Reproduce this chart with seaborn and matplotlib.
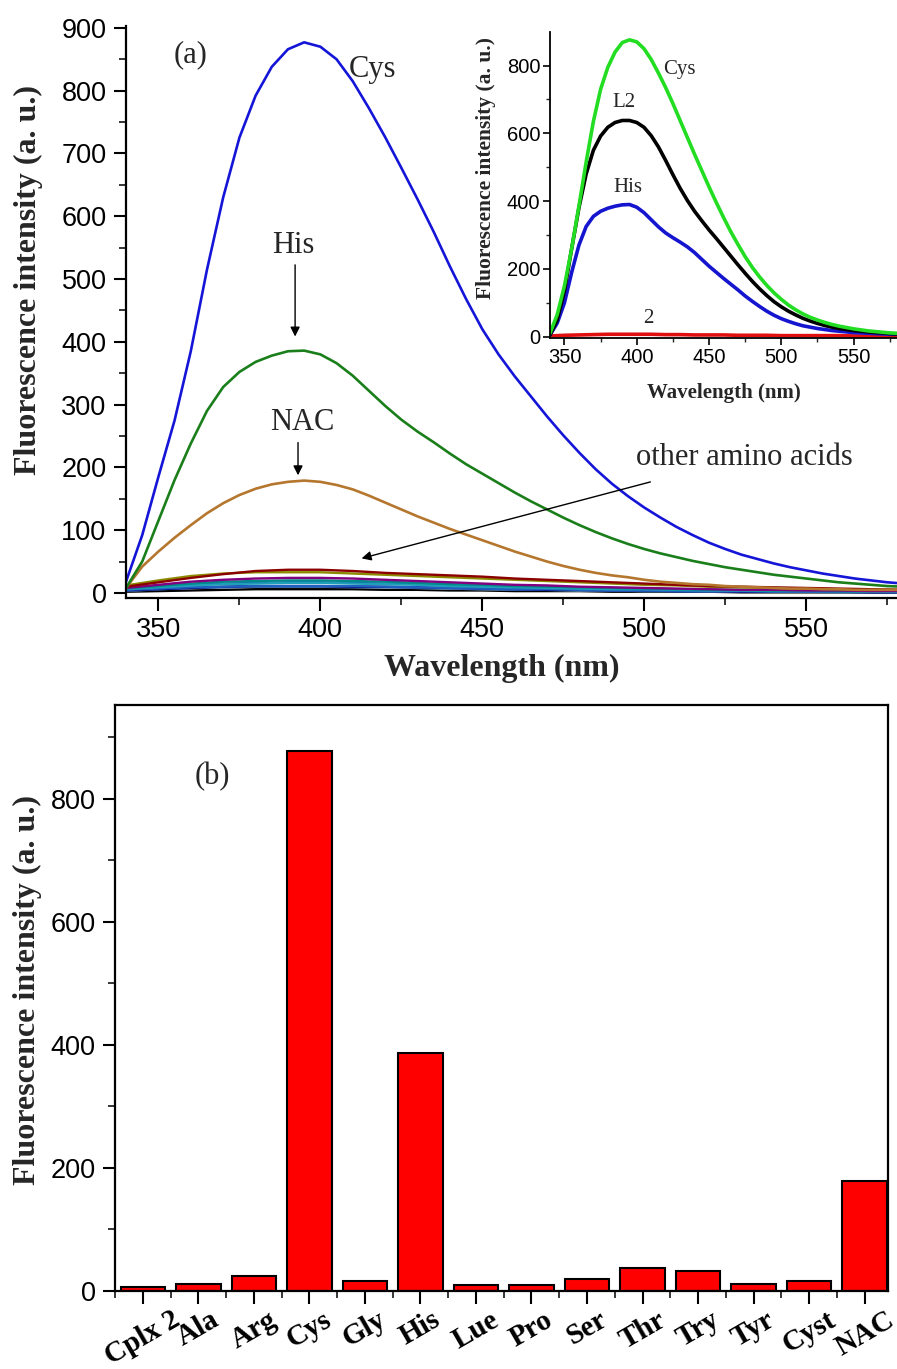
import numpy as np
import pandas as pd
import matplotlib
matplotlib.use("Agg")
import matplotlib.pyplot as plt
import seaborn as sns

# ---------------- data ----------------
# main panel (a): wavelength grid for the strong curves (5 nm)
wl5 = list(range(340, 581, 5))
cys = [18, 92, 185, 275, 385, 515, 630, 725, 792, 838, 866, 877, 870, 850, 815, 772,
       726, 677, 627, 575, 520, 468, 420, 380, 345, 313, 281, 251, 223, 197, 174, 154,
       136, 120, 105, 92, 80, 70, 61, 54, 47, 41, 36, 31, 27, 23, 20, 17, 15]
his = [8, 50, 115, 180, 238, 290, 328, 352, 368, 378, 385, 386, 380, 366, 346, 322,
       298, 276, 257, 240, 222, 205, 190, 175, 160, 146, 133, 120, 108, 97, 87, 78,
       70, 63, 57, 51, 46, 41, 37, 33, 29, 26, 23, 20, 17, 15, 13, 11, 10]
nac = [8, 42, 66, 88, 108, 127, 143, 156, 166, 173, 177, 179, 177, 172, 165, 155,
       144, 133, 122, 112, 102, 93, 84, 75, 66, 58, 50, 43, 37, 32, 28, 25,
       21, 18, 16, 14, 13, 11, 10, 9, 8, 7, 7, 6, 6, 5, 5, 5, 5]

# other amino acids (10 nm grid)
wl10 = list(range(340, 581, 10))
thr = [10, 17, 24, 30, 35, 37, 37, 35, 32, 30, 28, 26, 23, 21, 19, 17, 15, 13, 11, 10, 9, 8, 7, 6, 5]
try_ = [12, 20, 27, 31, 33, 33, 33, 31, 29, 27, 25, 23, 21, 19, 17, 15, 13, 12, 10, 9, 8, 7, 6, 5, 5]
arg = [8, 13, 18, 21, 23, 24, 24, 23, 21, 19, 17, 15, 13, 12, 10, 9, 8, 7, 6, 5, 5, 4, 4, 3, 3]
ser = [7, 11, 15, 18, 19, 20, 20, 19, 18, 16, 14, 13, 11, 10, 9, 8, 7, 6, 5, 5, 4, 4, 3, 3, 3]
gly = [6, 10, 13, 15, 16, 17, 17, 16, 15, 14, 12, 11, 10, 9, 8, 7, 6, 5, 5, 4, 4, 3, 3, 3, 2]
cyst = [6, 9, 12, 14, 15, 16, 16, 15, 14, 13, 11, 10, 9, 8, 7, 6, 6, 5, 4, 4, 3, 3, 3, 2, 2]
ala = [5, 7, 9, 10, 11, 11, 11, 11, 10, 9, 8, 7, 6, 6, 5, 4, 4, 3, 3, 3, 2, 2, 2, 2, 1]
tyr = [4, 6, 8, 10, 11, 11, 11, 10, 10, 9, 8, 7, 6, 5, 5, 4, 4, 3, 3, 2, 2, 2, 2, 1, 1]
lue = [4, 6, 8, 9, 10, 10, 10, 10, 9, 8, 7, 6, 6, 5, 4, 4, 3, 3, 3, 2, 2, 2, 2, 1, 1]
pro = [3, 6, 8, 9, 10, 10, 10, 9, 9, 8, 7, 6, 5, 5, 4, 4, 3, 3, 2, 2, 2, 2, 1, 1, 1]
cplx2 = [2, 3, 4, 5, 6, 6, 6, 6, 5, 5, 4, 4, 3, 3, 3, 2, 2, 2, 2, 1, 1, 1, 1, 1, 1]

# inset (5 nm grid for the three strong curves)
ins_cys = [10, 65, 150, 260, 385, 515, 635, 730, 795, 840, 868, 876, 870, 850, 818, 778,
           735, 688, 638, 588, 538, 490, 442, 396, 352, 310, 272, 236, 204, 176, 151, 129,
           110, 93, 79, 67, 57, 49, 42, 36, 31, 27, 23, 20, 17, 15, 13, 11, 10]
ins_l2 = [5, 50, 135, 260, 380, 480, 550, 592, 618, 632, 638, 638, 632, 618, 593, 560,
          520, 478, 438, 402, 370, 342, 315, 290, 264, 238, 212, 187, 163, 141, 121, 103,
          88, 75, 64, 54, 46, 39, 33, 28, 24, 21, 18, 16, 14, 12, 11, 9, 8]
ins_his = [5, 40, 100, 190, 270, 325, 355, 370, 379, 385, 389, 390, 382, 366, 345, 324,
           306, 292, 279, 265, 248, 228, 208, 190, 172, 155, 138, 120, 104, 89, 75, 63,
           53, 45, 38, 32, 28, 24, 21, 18, 16, 14, 12, 11, 10, 9, 8, 7, 7]
ins_2 = [2, 4, 5, 6, 7, 7, 7, 7, 6, 6, 5, 5, 5, 4, 4, 4, 3, 3, 3, 3, 3, 2, 2, 2, 2]

# panel (b)
bar_labels = ["Cplx 2", "Ala", "Arg", "Cys", "Gly", "His", "Lue", "Pro", "Ser",
              "Thr", "Try", "Tyr", "Cyst", "NAC"]
bar_values = [6, 11, 25, 878, 17, 387, 10, 10, 20, 38, 33, 11, 16, 179]

# ---------------- style ----------------
sns.set_style("ticks")
plt.rcParams["font.family"] = ["Liberation Sans", "DejaVu Sans"]
SERIF = ["Liberation Serif", "DejaVu Serif"]

fig = plt.figure(figsize=(8.97, 13.69), dpi=100)

# ---------------- panel (a) ----------------
ax = fig.add_axes([126 / 897, 1 - 598 / 1369, 1 - 126 / 897, (598 - 26) / 1369])
ax.set_facecolor("none")

low = [
    (cplx2, "#000000"), (pro, "#4a6fa5"), (lue, "#5f8fb0"), (tyr, "#000080"),
    (ala, "#1f5fbf"), (gly, "#3050c8"), (cyst, "#20a0b8"), (ser, "#008b8b"),
    (arg, "#800080"), (try_, "#8b8b00"), (thr, "#8b0000"),
]
for vals, col in low:
    sns.lineplot(x=wl10, y=vals, ax=ax, color=col, lw=1.7, estimator=None)

sns.lineplot(x=wl5, y=nac, ax=ax, color="#b5762e", lw=1.9, estimator=None)
sns.lineplot(x=wl5, y=his, ax=ax, color="#1a7f1a", lw=1.9, estimator=None)
sns.lineplot(x=wl5, y=cys, ax=ax, color="#1515d8", lw=1.9, estimator=None)

ax.set_xlim(340, 578)
ax.set_ylim(-8, 903)
ax.set_xticks([350, 400, 450, 500, 550])
ax.set_xticks(np.arange(375, 578, 50), minor=True)
ax.set_yticks(np.arange(0, 901, 100))
ax.set_yticks(np.arange(50, 901, 100), minor=True)
for s in ["top", "right"]:
    ax.spines[s].set_visible(False)
for s in ["left", "bottom"]:
    ax.spines[s].set_linewidth(1.6)
    ax.spines[s].set_color("black")
ax.tick_params(axis="both", which="major", direction="out", length=9, width=1.5,
               labelsize=19.5, colors="black", pad=5)
ax.tick_params(axis="both", which="minor", direction="out", length=5, width=1.3)
ax.set_xlabel("Wavelength (nm)", fontsize=23, fontweight="bold", family=SERIF)
ax.set_ylabel("Fluorescence intensity (a. u.)", fontsize=23, fontweight="bold", family=SERIF)
ax.xaxis.set_label_coords(0.488, -0.098)
ax.yaxis.set_label_coords(-0.108, 0.556)

tkw = dict(family=SERIF, fontsize=22, ha="center", va="center")
ax.text(359.8, 857, "(a)", **tkw)
ax.text(416.2, 833, "Cys", **tkw)
ax.text(391.5, 554, "His", **tkw)
ax.text(394.3, 271, "NAC", **tkw)
ax.text(531, 215, "other amino acids", **tkw)
akw = dict(arrowstyle="-|>", color="black", lw=1.0, mutation_scale=14)
ax.annotate("", xy=(392.2, 404), xytext=(392.2, 527), arrowprops=akw)
ax.annotate("", xy=(393.1, 183), xytext=(393.1, 244), arrowprops=akw)
ax.annotate("", xy=(411.9, 54), xytext=(502.7, 178), arrowprops=akw)

# ---------------- inset ----------------
axi = fig.add_axes([550 / 897, 1 - 338 / 1369, 347 / 897, (338 - 31.7) / 1369])
axi.set_facecolor("none")
sns.lineplot(x=wl10, y=ins_2, ax=axi, color="#e01010", lw=2.6, estimator=None)
sns.lineplot(x=wl5, y=ins_his, ax=axi, color="#1515d0", lw=2.6, estimator=None)
sns.lineplot(x=wl5, y=ins_l2, ax=axi, color="#000000", lw=2.6, estimator=None)
sns.lineplot(x=wl5, y=ins_cys, ax=axi, color="#22dd22", lw=2.6, estimator=None)
axi.set_xlim(340, 580)
axi.set_ylim(-4, 900)
axi.set_xticks([350, 400, 450, 500, 550])
axi.set_xticks(np.arange(375, 580, 50), minor=True)
axi.set_yticks([0, 200, 400, 600, 800])
axi.set_yticks(np.arange(100, 900, 200), minor=True)
for s in ["top", "right"]:
    axi.spines[s].set_visible(False)
for s in ["left", "bottom"]:
    axi.spines[s].set_linewidth(1.3)
    axi.spines[s].set_color("black")
axi.tick_params(axis="both", which="major", direction="out", length=5, width=1.2,
                labelsize=14.5, colors="black", pad=2)
axi.tick_params(axis="both", which="minor", direction="out", length=3, width=1.0)
axi.set_xlabel("Wavelength (nm)", fontsize=15, fontweight="bold", family=SERIF)
axi.set_ylabel("Fluorescence intensity (a. u.)", fontsize=15.5, fontweight="bold", family=SERIF)
axi.xaxis.set_label_coords(0.501, -0.148)
axi.yaxis.set_label_coords(-0.155, 0.555)
ikw = dict(family=SERIF, fontsize=15, ha="center", va="center")
axi.text(429.4, 787, "Cys", **ikw)
axi.text(391, 690, "L2", **ikw)
axi.text(393.8, 439, "His", **ikw)
axi.text(407.7, 55, "2", **ikw)

# ---------------- panel (b) ----------------
axb = fig.add_axes([115 / 897, 1 - 1291 / 1369, (888 - 115) / 897, (1291 - 705) / 1369])
dfb = pd.DataFrame({"cat": bar_labels, "val": bar_values})
sns.barplot(data=dfb, x="cat", y="val", ax=axb, color="#ff0000", saturation=1,
            edgecolor="black", linewidth=1.5, width=0.8)
axb.set_xlim(-0.5, 13.42)
axb.set_ylim(0, 952)
axb.set_yticks([0, 200, 400, 600, 800])
axb.set_yticks(np.arange(100, 950, 200), minor=True)
axb.set_xticks(np.arange(len(bar_labels)))
axb.set_xticks(np.arange(-0.5, 13.0, 1.0), minor=True)
axb.set_xticklabels(bar_labels, rotation=30, ha="center", va="top",
                    family=SERIF, fontsize=21, fontweight="bold")
for s in axb.spines.values():
    s.set_linewidth(1.6)
    s.set_color("black")
    s.set_visible(True)
axb.tick_params(axis="both", which="major", direction="out", length=9, width=1.5,
                labelsize=19.5, colors="black", pad=5)
axb.tick_params(axis="x", which="major", labelsize=21, pad=2)
axb.tick_params(axis="both", which="minor", direction="out", length=5, width=1.3)
axb.set_xlabel("")
axb.set_ylabel("Fluorescence intensity (a. u.)", fontsize=23, fontweight="bold", family=SERIF)
axb.yaxis.set_label_coords(-0.094, 0.514)
axb.text(1.25, 835, "(b)", family=SERIF, fontsize=22, ha="center", va="center")

fig.savefig("out.png", dpi=100)
